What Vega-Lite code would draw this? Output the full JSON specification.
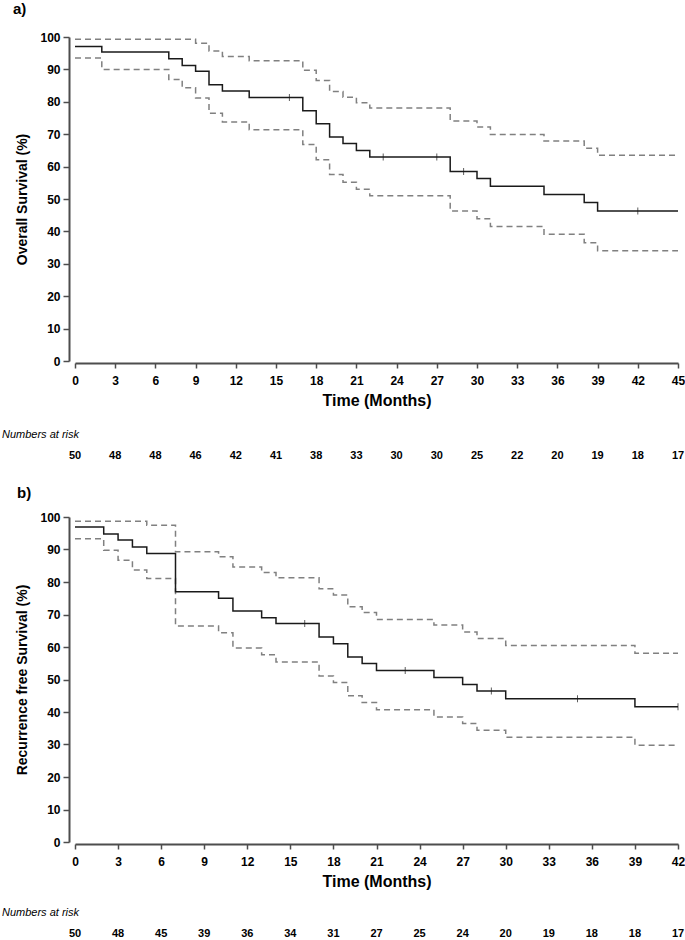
{
  "$schema": "https://vega.github.io/schema/vega-lite/v6.json",
  "padding": {"left": 2, "top": 2, "right": 5, "bottom": 0},
  "background": "white",
  "config": {
    "font": "Liberation Sans",
    "view": {"stroke": null},
    "axis": {
      "grid": false,
      "domainColor": "#4d4d4d",
      "domainWidth": 2,
      "tickColor": "#4d4d4d",
      "tickWidth": 1.5,
      "labelFont": "Liberation Sans",
      "labelFontWeight": "bold",
      "labelFontSize": 12,
      "labelColor": "#000000",
      "labelFlush": false,
      "labelOverlap": false,
      "titleFont": "Liberation Sans",
      "titleFontWeight": "bold",
      "titleColor": "#000000"
    },
    "title": {"font": "Liberation Sans", "color": "#000000"}
  },
  "datasets": {
    "a": [
      {"series": "est", "t": 0, "s": 97.1}, {"series": "est", "t": 2, "s": 95.4}, {"series": "est", "t": 7, "s": 93.3},
      {"series": "est", "t": 8, "s": 91.2}, {"series": "est", "t": 9, "s": 89.4}, {"series": "est", "t": 10, "s": 85.3},
      {"series": "est", "t": 11, "s": 83.3}, {"series": "est", "t": 13, "s": 81.3}, {"series": "est", "t": 17, "s": 77.2},
      {"series": "est", "t": 18, "s": 73.2}, {"series": "est", "t": 19, "s": 69.1}, {"series": "est", "t": 20, "s": 67.1},
      {"series": "est", "t": 21, "s": 65.0}, {"series": "est", "t": 22, "s": 63.0}, {"series": "est", "t": 28, "s": 58.5},
      {"series": "est", "t": 30, "s": 56.3}, {"series": "est", "t": 31, "s": 53.9}, {"series": "est", "t": 35, "s": 51.4},
      {"series": "est", "t": 38, "s": 48.9}, {"series": "est", "t": 39, "s": 46.3}, {"series": "est", "t": 45, "s": 46.3},
      {"series": "hi", "t": 0, "s": 99.3}, {"series": "hi", "t": 9, "s": 98.1}, {"series": "hi", "t": 10, "s": 95.7},
      {"series": "hi", "t": 11, "s": 94.0}, {"series": "hi", "t": 13, "s": 92.7}, {"series": "hi", "t": 17, "s": 89.7},
      {"series": "hi", "t": 18, "s": 86.6}, {"series": "hi", "t": 19, "s": 83.2}, {"series": "hi", "t": 20, "s": 81.4},
      {"series": "hi", "t": 21, "s": 79.7}, {"series": "hi", "t": 22, "s": 78.1}, {"series": "hi", "t": 28, "s": 74.1},
      {"series": "hi", "t": 30, "s": 72.2}, {"series": "hi", "t": 31, "s": 69.9}, {"series": "hi", "t": 35, "s": 67.9},
      {"series": "hi", "t": 38, "s": 65.7}, {"series": "hi", "t": 39, "s": 63.5}, {"series": "hi", "t": 45, "s": 63.5},
      {"series": "lo", "t": 0, "s": 93.5}, {"series": "lo", "t": 2, "s": 90.0}, {"series": "lo", "t": 7, "s": 86.9},
      {"series": "lo", "t": 8, "s": 84.3}, {"series": "lo", "t": 9, "s": 81.2}, {"series": "lo", "t": 10, "s": 76.5},
      {"series": "lo", "t": 11, "s": 73.8}, {"series": "lo", "t": 13, "s": 71.4}, {"series": "lo", "t": 17, "s": 66.8},
      {"series": "lo", "t": 18, "s": 62.1}, {"series": "lo", "t": 19, "s": 57.6}, {"series": "lo", "t": 20, "s": 55.2},
      {"series": "lo", "t": 21, "s": 53.0}, {"series": "lo", "t": 22, "s": 51.0}, {"series": "lo", "t": 28, "s": 46.3},
      {"series": "lo", "t": 30, "s": 43.9}, {"series": "lo", "t": 31, "s": 41.5}, {"series": "lo", "t": 35, "s": 39.1},
      {"series": "lo", "t": 38, "s": 36.5}, {"series": "lo", "t": 39, "s": 34.0}, {"series": "lo", "t": 45, "s": 34.0},
      {"series": "cens", "t": 16, "s": 81.3}, {"series": "cens", "t": 23, "s": 63.0}, {"series": "cens", "t": 27, "s": 63.0},
      {"series": "cens", "t": 29, "s": 58.5}, {"series": "cens", "t": 42, "s": 46.3}
    ],
    "b": [
      {"series": "est", "t": 0, "s": 96.9}, {"series": "est", "t": 2, "s": 94.8}, {"series": "est", "t": 3, "s": 92.9},
      {"series": "est", "t": 4, "s": 90.8}, {"series": "est", "t": 5, "s": 88.8}, {"series": "est", "t": 7, "s": 77.0},
      {"series": "est", "t": 10, "s": 75.0}, {"series": "est", "t": 11, "s": 71.1}, {"series": "est", "t": 13, "s": 69.0},
      {"series": "est", "t": 14, "s": 67.2}, {"series": "est", "t": 17, "s": 63.1}, {"series": "est", "t": 18, "s": 61.0},
      {"series": "est", "t": 19, "s": 56.9}, {"series": "est", "t": 20, "s": 54.9}, {"series": "est", "t": 21, "s": 52.8},
      {"series": "est", "t": 25, "s": 50.6}, {"series": "est", "t": 27, "s": 48.5}, {"series": "est", "t": 28, "s": 46.5},
      {"series": "est", "t": 30, "s": 44.1}, {"series": "est", "t": 39, "s": 41.6}, {"series": "est", "t": 42, "s": 41.6},
      {"series": "hi", "t": 0, "s": 98.7}, {"series": "hi", "t": 5, "s": 97.5}, {"series": "hi", "t": 7, "s": 89.3},
      {"series": "hi", "t": 10, "s": 87.8}, {"series": "hi", "t": 11, "s": 84.6}, {"series": "hi", "t": 13, "s": 82.9},
      {"series": "hi", "t": 14, "s": 81.3}, {"series": "hi", "t": 17, "s": 77.9}, {"series": "hi", "t": 18, "s": 76.0},
      {"series": "hi", "t": 19, "s": 72.4}, {"series": "hi", "t": 20, "s": 70.6}, {"series": "hi", "t": 21, "s": 68.5},
      {"series": "hi", "t": 25, "s": 66.8}, {"series": "hi", "t": 27, "s": 64.6}, {"series": "hi", "t": 28, "s": 62.6},
      {"series": "hi", "t": 30, "s": 60.5}, {"series": "hi", "t": 39, "s": 58.1}, {"series": "hi", "t": 42, "s": 58.1},
      {"series": "lo", "t": 0, "s": 93.3}, {"series": "lo", "t": 2, "s": 89.8}, {"series": "lo", "t": 3, "s": 86.7},
      {"series": "lo", "t": 4, "s": 83.7}, {"series": "lo", "t": 5, "s": 81.1}, {"series": "lo", "t": 7, "s": 66.5},
      {"series": "lo", "t": 10, "s": 64.4}, {"series": "lo", "t": 11, "s": 59.7}, {"series": "lo", "t": 13, "s": 57.6},
      {"series": "lo", "t": 14, "s": 55.4}, {"series": "lo", "t": 17, "s": 51.1}, {"series": "lo", "t": 18, "s": 49.1},
      {"series": "lo", "t": 19, "s": 45.0}, {"series": "lo", "t": 20, "s": 42.9}, {"series": "lo", "t": 21, "s": 40.7},
      {"series": "lo", "t": 25, "s": 38.5}, {"series": "lo", "t": 27, "s": 36.5}, {"series": "lo", "t": 28, "s": 34.4},
      {"series": "lo", "t": 30, "s": 32.2}, {"series": "lo", "t": 39, "s": 29.8}, {"series": "lo", "t": 42, "s": 29.8},
      {"series": "cens", "t": 16, "s": 67.2}, {"series": "cens", "t": 23, "s": 52.8}, {"series": "cens", "t": 29, "s": 46.5},
      {"series": "cens", "t": 35, "s": 44.1}, {"series": "cens", "t": 42, "s": 41.6}
    ],
    "riskA": [
      {"t": 0, "n": 50}, {"t": 3, "n": 48}, {"t": 6, "n": 48}, {"t": 9, "n": 46}, {"t": 12, "n": 42}, {"t": 15, "n": 41},
      {"t": 18, "n": 38}, {"t": 21, "n": 33}, {"t": 24, "n": 30}, {"t": 27, "n": 30}, {"t": 30, "n": 25}, {"t": 33, "n": 22},
      {"t": 36, "n": 20}, {"t": 39, "n": 19}, {"t": 42, "n": 18}, {"t": 45, "n": 17}
    ],
    "riskB": [
      {"t": 0, "n": 50}, {"t": 3, "n": 48}, {"t": 6, "n": 45}, {"t": 9, "n": 39}, {"t": 12, "n": 36}, {"t": 15, "n": 34},
      {"t": 18, "n": 31}, {"t": 21, "n": 27}, {"t": 24, "n": 25}, {"t": 27, "n": 24}, {"t": 30, "n": 20}, {"t": 33, "n": 19},
      {"t": 36, "n": 18}, {"t": 39, "n": 18}, {"t": 42, "n": 17}
    ],
    "ref": [{"s": 50}]
  },
  "spacing": 20,
  "vconcat": [
    {
      "bounds": "flush",
      "spacing": 85,
      "vconcat": [
        {
          "width": 603,
          "height": 324,
          "title": {"text": "a)", "anchor": "start", "frame": "group", "dx": -62, "fontSize": 15, "fontWeight": "bold", "offset": 14},
          "data": {"name": "a"},
          "encoding": {
            "x": {"field": "t", "type": "quantitative",
              "scale": {"domain": [0, 45], "nice": false, "zero": false},
              "axis": {"values": [0, 3, 6, 9, 12, 15, 18, 21, 24, 27, 30, 33, 36, 39, 42, 45], "offset": 2, "tickSize": 5, "labelPadding": 7,
                "title": "Time (Months)", "titleFontSize": 16, "titlePadding": 6}},
            "y": {"field": "s", "type": "quantitative",
              "scale": {"domain": [0, 100], "nice": false},
              "axis": {"values": [0, 10, 20, 30, 40, 50, 60, 70, 80, 90, 100], "offset": 6, "tickSize": 6, "labelPadding": 3,
                "title": "Overall Survival (%)", "titleFontSize": 14, "titlePadding": 10}}
          },
          "layer": [
            {
              "data": {"name": "ref"},
              "mark": {"type": "rule", "color": "#000000", "strokeWidth": 1, "strokeDash": [1.2, 1.8]},
              "encoding": {"x": {"datum": -0.5}, "x2": {"datum": 45.4}}
            },
            {
              "transform": [{"filter": "datum.series === 'hi' || datum.series === 'lo'"}],
              "mark": {"type": "line", "interpolate": "step-after", "color": "#808080", "strokeWidth": 1.5, "strokeDash": [6, 4]},
              "encoding": {"detail": {"field": "series"}}
            },
            {
              "transform": [{"filter": "datum.series === 'est'"}],
              "mark": {"type": "line", "interpolate": "step-after", "color": "#1a1a1a", "strokeWidth": 1.5}
            },
            {
              "transform": [{"filter": "datum.series === 'cens'"}],
              "mark": {"type": "tick", "orient": "vertical", "size": 7, "thickness": 1, "color": "#1a1a1a"}
            }
          ]
        },
        {
          "width": 603,
          "height": 20,
          "title": {"text": "Numbers at risk", "anchor": "start", "frame": "group", "dx": -73, "fontSize": 11, "fontStyle": "italic", "fontWeight": "normal", "offset": 6},
          "data": {"name": "riskA"},
          "mark": {"type": "text", "fontSize": 11, "fontWeight": "bold", "color": "#000000"},
          "encoding": {
            "x": {"field": "t", "type": "quantitative", "scale": {"domain": [0, 45], "nice": false, "zero": false}, "axis": null},
            "text": {"field": "n"}
          }
        }
      ]
    },
    {
      "bounds": "flush",
      "spacing": 82,
      "vconcat": [
        {
          "width": 603,
          "height": 325,
          "title": {"text": "b)", "anchor": "start", "frame": "group", "dx": -58, "fontSize": 15, "fontWeight": "bold", "offset": 10},
          "data": {"name": "b"},
          "encoding": {
            "x": {"field": "t", "type": "quantitative",
              "scale": {"domain": [0, 42], "nice": false, "zero": false},
              "axis": {"values": [0, 3, 6, 9, 12, 15, 18, 21, 24, 27, 30, 33, 36, 39, 42], "offset": 2, "tickSize": 5, "labelPadding": 7,
                "title": "Time (Months)", "titleFontSize": 16, "titlePadding": 6}},
            "y": {"field": "s", "type": "quantitative",
              "scale": {"domain": [0, 100], "nice": false},
              "axis": {"values": [0, 10, 20, 30, 40, 50, 60, 70, 80, 90, 100], "offset": 6, "tickSize": 6, "labelPadding": 3,
                "title": "Recurrence free Survival (%)", "titleFontSize": 14, "titlePadding": 10}}
          },
          "layer": [
            {
              "data": {"name": "ref"},
              "mark": {"type": "rule", "color": "#000000", "strokeWidth": 1, "strokeDash": [1.2, 1.8]},
              "encoding": {"x": {"datum": -0.5}, "x2": {"datum": 42.4}}
            },
            {
              "transform": [{"filter": "datum.series === 'hi' || datum.series === 'lo'"}],
              "mark": {"type": "line", "interpolate": "step-after", "color": "#808080", "strokeWidth": 1.5, "strokeDash": [6, 4]},
              "encoding": {"detail": {"field": "series"}}
            },
            {
              "transform": [{"filter": "datum.series === 'est'"}],
              "mark": {"type": "line", "interpolate": "step-after", "color": "#1a1a1a", "strokeWidth": 1.5}
            },
            {
              "transform": [{"filter": "datum.series === 'cens'"}],
              "mark": {"type": "tick", "orient": "vertical", "size": 7, "thickness": 1, "color": "#1a1a1a"}
            }
          ]
        },
        {
          "width": 603,
          "height": 20,
          "title": {"text": "Numbers at risk", "anchor": "start", "frame": "group", "dx": -73, "fontSize": 11, "fontStyle": "italic", "fontWeight": "normal", "offset": 6},
          "data": {"name": "riskB"},
          "mark": {"type": "text", "fontSize": 11, "fontWeight": "bold", "color": "#000000"},
          "encoding": {
            "x": {"field": "t", "type": "quantitative", "scale": {"domain": [0, 42], "nice": false, "zero": false}, "axis": null},
            "text": {"field": "n"}
          }
        }
      ]
    }
  ]
}
